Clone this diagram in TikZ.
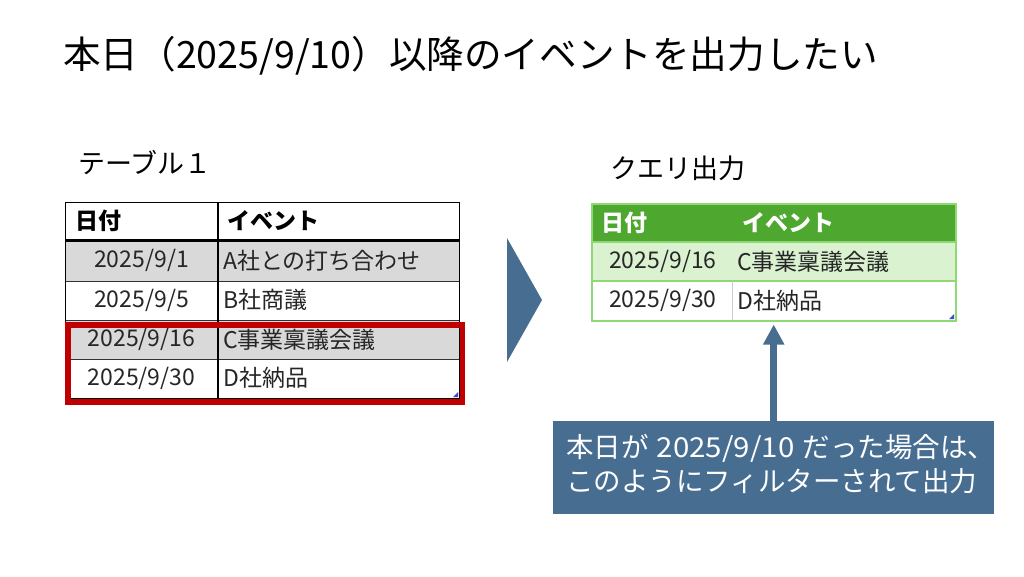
\documentclass[tikz,border=0pt]{standalone}
\usepackage{fontspec}
\setmainfont{Noto Sans CJK JP}
\newfontfamily\widedigits{Noto Sans CJK JP}[FakeStretch=1.07]
\usetikzlibrary{arrows.meta}
\definecolor{navy}{HTML}{476D91}
\definecolor{redbox}{HTML}{C00000}
\definecolor{graycell}{HTML}{D9D9D9}
\definecolor{ghead}{HTML}{4EA72E}
\definecolor{glight}{HTML}{DAF2D0}
\definecolor{gline}{HTML}{8ED973}
\definecolor{handle}{HTML}{3B4FC4}
\begin{document}
\begin{tikzpicture}[x=1pt,y=-1pt,
  lbl/.style={anchor=west,inner sep=0pt},
  titletext/.style={lbl,font=\fontsize{37.6}{44}\selectfont},
  subtext/.style={lbl,font=\fontsize{27}{31}\selectfont},
  celltext/.style={inner sep=0pt,font=\fontsize{23}{28}\selectfont,text=black!85},
  headtext/.style={lbl,font=\fontsize{23}{28}\selectfont\bfseries},
  calltext/.style={lbl,text=white,font=\fontsize{27.5}{33}\selectfont},
  bigarrow/.style={draw=navy,line width=7pt,-{Triangle[width=20pt,length=20pt]}},
]
\useasboundingbox[fill=white] (0,0) rectangle (1024,576);

% title
\node[titletext] (title) at (63,56) {本日（2025/9/10）以降のイベントを出力したい};
\node[subtext] (t1label) at (78,163) {テーブル１};
\node[subtext] (qlabel) at (610,168) {クエリ出力};

% ---- left table ----
\fill[graycell] (65,240) rectangle (459,281);
\fill[graycell] (65,320) rectangle (459,359);
\draw[black!80,line width=1pt] (65,281) -- (459,281) (65,320) -- (459,320) (65,359) -- (459,359);
\draw[black,line width=3pt] (65,240) -- (459,240);
\draw[black,line width=1.2pt] (218,202) -- (218,398);
\node[draw=black,line width=1.3pt,inner sep=0pt,anchor=north west,minimum width=394pt,minimum height=196pt] (ltable) at (65,202) {};
\fill[handle] (453,397) -- (458,397) -- (458,392) -- cycle;

\node[headtext] (lh1) at (75,221) {日付};
\node[headtext] (lh2) at (227,221) {イベント};
\node[celltext] (ld1) at (141.5,260.5) {2025/9/1};
\node[celltext] (ld2) at (141.5,300) {2025/9/5};
\node[celltext] (ld3) at (141.5,339.5) {2025/9/16};
\node[celltext] (ld4) at (141.5,378) {2025/9/30};
\node[celltext,anchor=west] (le1) at (223,260.5) {A社との打ち合わせ};
\node[celltext,anchor=west] (le2) at (223,300) {B社商議};
\node[celltext,anchor=west] (le3) at (223,339.5) {C事業稟議会議};
\node[celltext,anchor=west] (le4) at (223,378) {D社納品};

% red highlight
\node[draw=redbox,line width=5.5pt,inner sep=0pt,anchor=north west,minimum width=394.5pt,minimum height=77pt] (redsel) at (65,322) {};

% chevron
\fill[navy] (507,238) -- (542,300) -- (507,362) -- cycle;

% ---- right table ----
\fill[ghead] (591,203) rectangle (955,242);
\fill[glight] (591,242) rectangle (955,281);
\draw[gline,line width=1.2pt] (591,242) -- (955,242) (591,281) -- (955,281);
\draw[black!20,line width=1pt] (732,281) -- (732,320);
\node[draw=gline,line width=1.5pt,inner sep=0pt,anchor=north west,minimum width=364pt,minimum height=117pt] (qtable) at (591,203) {};
\fill[handle] (949,319) -- (954,319) -- (954,314) -- cycle;

\node[headtext,text=white] (rh1) at (601,222.5) {日付};
\node[headtext,text=white] (rh2) at (742,222.5) {イベント};
\node[celltext,anchor=west] (rd1) at (609,261.5) {2025/9/16};
\node[celltext,anchor=west] (rd2) at (609,300.5) {2025/9/30};
\node[celltext,anchor=west] (re1) at (737,261.5) {C事業稟議会議};
\node[celltext,anchor=west] (re2) at (737,300.5) {D社納品};

% callout
\node[fill=navy,inner sep=0pt,anchor=north west,minimum width=441pt,minimum height=93pt] (callout) at (553,421) {};
\node[calltext] (c1) at (566,448) {本日が\hspace{0.3em}{\widedigits 2025/9/10}\hspace{0.3em}だった場合は、};
\node[calltext] (c2) at (566,481) {このようにフィルターされて出力};

\coordinate (tip) at ([yshift=-3pt]qtable.south);
\draw[bigarrow] (callout.north) -- (callout.north |- tip);
\end{tikzpicture}
\end{document}
